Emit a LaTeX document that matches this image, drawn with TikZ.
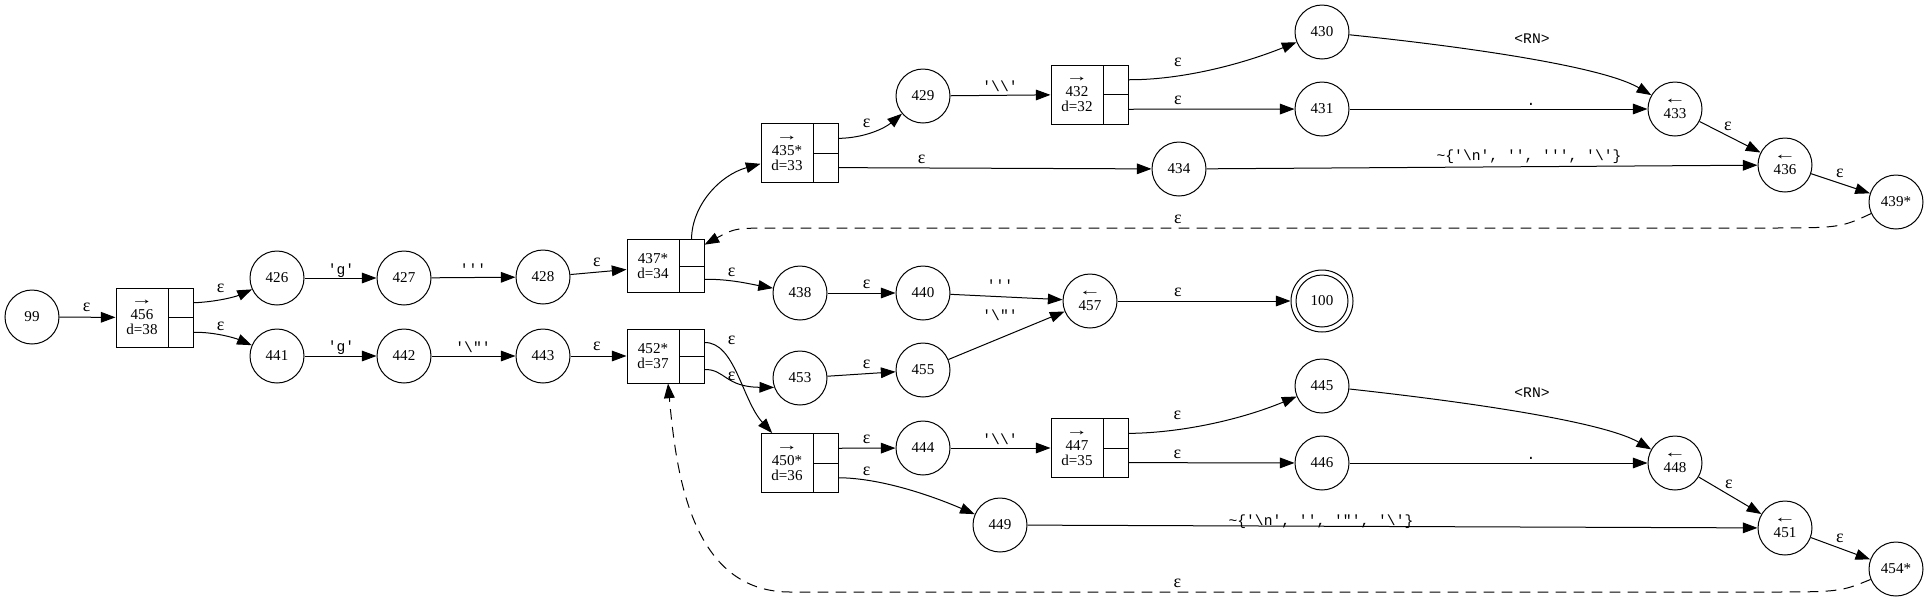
\documentclass[tikz,border=0pt]{standalone}
\usepackage{fontspec}
\setmainfont{Liberation Serif}
\setmonofont{Liberation Mono}
\usetikzlibrary{arrows.meta}
\newcommand{\rarr}{\scalebox{1.5}[1]{→}}
\newcommand{\larr}{\scalebox{1.5}[1]{←}}
\newcommand{\recnode}[5]{%
  \node[recbox, minimum height=#4*0.75pt] (#1) at (#2+38.5,#3) {};
  \node[reccell, minimum height=#4*0.75pt] (#1t) at (#2+26,#3) {#5};
  \node[recport, minimum height=#4*0.375pt] (#1a) at (#2+64.5,#3-#4/4) {};
  \node[recport, minimum height=#4*0.375pt] (#1b) at (#2+64.5,#3+#4/4) {};
}
\begin{document}
\begin{tikzpicture}[x=0.75pt,y=-0.75pt, line width=0.75pt,
  every node/.style={font=\fontsize{11.3}{11.3}\selectfont},
  state/.style={circle,draw,minimum size=40.5pt,inner sep=0pt,align=center},
  recbox/.style={rectangle,minimum width=57.75pt,inner sep=0pt},
  reccell/.style={draw,rectangle,minimum width=39pt,inner sep=0pt,align=center},
  recport/.style={draw,rectangle,minimum width=18.75pt,inner sep=0pt},
  arr/.style={-{Triangle[length=11pt,width=8pt]}},
  dsh/.style={arr,dash pattern=on 8pt off 5.5pt},
  lbl/.style={anchor=base,inner sep=0pt,font=\fontsize{13.5}{13.5}\selectfont},
  mlbl/.style={anchor=base,inner sep=0pt,font=\fontsize{11}{11}\selectfont\ttfamily}]
\useasboundingbox (0,0) rectangle (1928,601);

% states
\node[state] (n99) at (32,317) {99};
\recnode{n456}{116}{317.5}{59}{\rarr\\456\\d=38}
\node[state] (n426) at (277,278) {426};
\node[state] (n441) at (277,356) {441};
\node[state] (n427) at (404,278) {427};
\node[state] (n442) at (404,356) {442};
\node[state] (n428) at (543,277) {428};
\node[state] (n443) at (543,356) {443};
\recnode{n437}{627}{266}{53}{437*\\d=34}
\recnode{n452}{627}{356}{54}{452*\\d=37}
\recnode{n435}{761}{153}{58.5}{\rarr\\435*\\d=33}
\recnode{n450}{761}{463}{59}{\rarr\\450*\\d=36}
\recnode{n432}{1051}{94.5}{59}{\rarr\\432\\d=32}
\recnode{n447}{1051}{448}{58.5}{\rarr\\447\\d=35}
\node[state] (n438) at (800,293) {438};
\node[state] (n453) at (800,378) {453};
\node[state] (n440) at (923,293) {440};
\node[state] (n455) at (923,370) {455};
\node[state] (n457) at (1090,301) {\larr\\457};
\node[state,minimum size=46.5pt] (n100) at (1322,301) {};
\node[state,minimum size=39pt] (n100i) at (1322,301) {100};
\node[state] (n429) at (923,96) {429};
\node[state] (n434) at (1179,169) {434};
\node[state] (n430) at (1322,32) {430};
\node[state] (n431) at (1322,109) {431};
\node[state] (n433) at (1675,109) {\larr\\433};
\node[state] (n436) at (1785,165) {\larr\\436};
\node[state] (n439) at (1896,202) {439*};
\node[state] (n444) at (923,448) {444};
\node[state] (n449) at (1000,525) {449};
\node[state] (n445) at (1322,386) {445};
\node[state] (n446) at (1322,463) {446};
\node[state] (n448) at (1675,463) {\larr\\448};
\node[state] (n451) at (1785,528) {\larr\\451};
\node[state] (n454) at (1896,569) {454*};

% edges
\draw[arr] (n99) -- (n456);
\draw[arr] (n456a.east) .. controls (215,302) and (235,297) .. (n426);
\draw[arr] (n456b.east) .. controls (215,332) and (235,338) .. (n441);
\draw[arr] (n426) -- (n427);
\draw[arr] (n441) -- (n442);
\draw[arr] (n427) -- (n428);
\draw[arr] (n442) -- (n443);
\draw[arr] (n428) -- (n437);
\draw[arr] (n443) -- (n452);
\draw[arr] (n437a.north) .. controls (692,205) and (720,175) .. (n435);
\draw[arr] (n437b.east) .. controls (730,279) and (750,284) .. (n438);
\draw[arr] (n452a.east) .. controls (735,342) and (742,400) .. (n450);
\draw[arr] (n452b.east) .. controls (725,369) and (725,387) .. (n453.200);
\draw[arr] (n435a.east) .. controls (865,138) and (885,128) .. (n429);
\draw[arr] (n435b.east) -- (n434);
\draw[arr] (n429) -- (n432);
\draw[arr] (n432a.east) .. controls (1180,80) and (1240,65) .. (n430);
\draw[arr] (n432b.east) -- (n431);
\draw[arr] (n430) .. controls (1450,45) and (1600,65) .. (n433);
\draw[arr] (n431) -- (n433);
\draw[arr] (n433) -- (n436);
\draw[arr] (n434) -- (n436);
\draw[arr] (n436) -- (n439);
\draw[dsh] (n439) .. controls (1840,228) .. (1760,228) -- (780,228) .. controls (735,228) .. (n437);
\draw[arr] (n438) -- (n440);
\draw[arr] (n453) -- (n455);
\draw[arr] (n440) -- (n457);
\draw[arr] (n455) -- (n457);
\draw[arr] (n457) -- (n100);
\draw[arr] (n450a.east) -- (n444);
\draw[arr] (n450b.east) .. controls (880,478) and (930,495) .. (n449);
\draw[arr] (n444) -- (n447);
\draw[arr] (n447a.east) .. controls (1180,433) and (1240,420) .. (n445);
\draw[arr] (n447b.east) -- (n446);
\draw[arr] (n445) .. controls (1450,400) and (1600,420) .. (n448);
\draw[arr] (n446) -- (n448);
\draw[arr] (n448) -- (n451);
\draw[arr] (n449) -- (n451);
\draw[arr] (n451) -- (n454);
\draw[dsh] (n454) .. controls (1840,592) .. (1760,592) -- (790,592) .. controls (690,592) and (676,470) .. (n452);

% labels
\node[lbl] (l1) at (86.7,311.7) {ε};
\node[lbl] (l2) at (220.7,292.3) {ε};
\node[lbl] (l3) at (220.7,330) {ε};
\node[mlbl] (l4) at (341,274) {'g'};
\node[mlbl] (l5) at (341,351.7) {'g'};
\node[mlbl] (l6) at (473,274) {'''};
\node[mlbl] (l7) at (473,352) {'\textbackslash"'};
\node[lbl] (l8) at (597,266.7) {ε};
\node[lbl] (l9) at (597,350.7) {ε};
\node[lbl] (l10) at (731.7,276) {ε};
\node[lbl] (l11) at (731.7,344) {ε};
\node[lbl] (l12) at (731.7,380) {ε};
\node[lbl] (l13) at (866.7,288.3) {ε};
\node[lbl] (l14) at (866.7,368.3) {ε};
\node[mlbl] (l15) at (1000,290) {'''};
\node[mlbl] (l16) at (1000,320) {'\textbackslash"'};
\node[lbl] (l17) at (1177.8,296) {ε};
\node[lbl] (l18) at (866.7,127.3) {ε};
\node[lbl] (l19) at (921.7,163.3) {ε};
\node[mlbl] (l20) at (1000,91) {'\textbackslash\textbackslash'};
\node[lbl] (l21) at (1178,66.7) {ε};
\node[lbl] (l22) at (1178,104) {ε};
\node[mlbl] (l23) at (1532,43) {<RN>};
\node[mlbl] (l24) at (1531,105) {.};
\node[lbl] (l25) at (1728,130.7) {ε};
\node[mlbl] (l26) at (1529,160.5) {\textasciitilde\{'\textbackslash n', '', ''', '\textbackslash'\}};
\node[lbl] (l27) at (1840,177.7) {ε};
\node[lbl] (l28) at (1178,223.3) {ε};
\node[lbl] (l29) at (866.7,443.3) {ε};
\node[lbl] (l30) at (866.7,475) {ε};
\node[mlbl] (l31) at (1000,444) {'\textbackslash\textbackslash'};
\node[lbl] (l32) at (1177.3,419) {ε};
\node[lbl] (l33) at (1177.3,458.3) {ε};
\node[mlbl] (l34) at (1532,397) {<RN>};
\node[mlbl] (l35) at (1531,459) {.};
\node[mlbl] (l36) at (1321,525.5) {\textasciitilde\{'\textbackslash n', '', '"', '\textbackslash'\}};
\node[lbl] (l37) at (1729,488) {ε};
\node[lbl] (l38) at (1840,542.3) {ε};
\node[lbl] (l39) at (1177.3,587.3) {ε};
\end{tikzpicture}
\end{document}
